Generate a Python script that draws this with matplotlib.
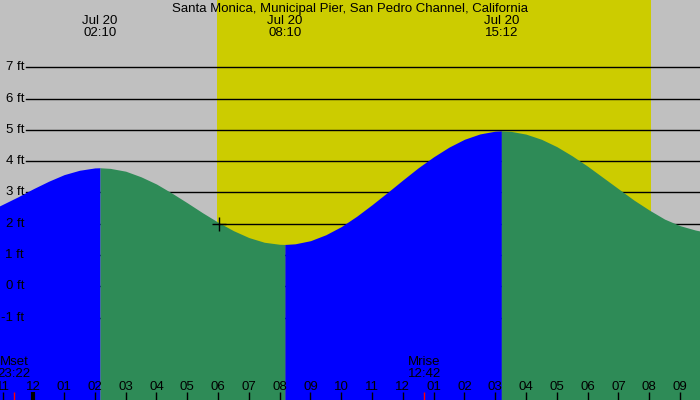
import numpy as np
import matplotlib.pyplot as plt

plt.rcParams['font.family'] = ['Liberation Sans', 'DejaVu Sans']

title = "Santa Monica, Municipal Pier, San Pedro Channel, California"

# tide height (ft), hours from midnight Jul 20
tide_hours = [-1.1, -0.5, 0, 0.5, 1, 1.5, 2, 2.167,
              2.5, 3, 3.5, 4, 4.5, 5, 5.5, 6, 6.5, 7, 7.5, 8, 8.167,
              8.5, 9, 9.5, 10, 10.5, 11, 11.5, 12, 12.5, 13, 13.5, 14, 14.5, 15, 15.2,
              15.5, 16, 16.5, 17, 17.5, 18, 18.5, 19, 19.5, 20, 20.5, 21, 21.5, 21.7]
tide_ft = [2.57, 2.86, 3.12, 3.36, 3.57, 3.71, 3.785, 3.79,
           3.77, 3.68, 3.50, 3.27, 2.98, 2.67, 2.35, 2.05, 1.78, 1.56, 1.41, 1.345, 1.34,
           1.36, 1.46, 1.65, 1.91, 2.24, 2.61, 3.00, 3.40, 3.79, 4.14, 4.45, 4.70, 4.87, 4.96, 4.97,
           4.955, 4.865, 4.70, 4.465, 4.17, 3.84, 3.48, 3.12, 2.76, 2.44, 2.15, 1.94, 1.80, 1.76]

# turning points
extreme_hours = [2.167, 8.167, 15.2]
extreme_labels = ['Jul 20\n02:10', 'Jul 20\n08:10', 'Jul 20\n15:12']

sunrise, sunset = 5.98, 20.07
moon_hours = [-0.633, 12.7]
moon_labels = ['Mset\n23:22', 'Mrise\n12:42']
now_hour, now_ft = 6.03, 2.0

hour_ticks = list(range(-1, 22))
hour_labels = ['11', '12', '01', '02', '03', '04', '05', '06', '07', '08', '09', '10', '11',
               '12', '01', '02', '03', '04', '05', '06', '07', '08', '09']
ft_levels = [-1, 0, 1, 2, 3, 4, 5, 6, 7]

xmin, xmax = -1.082, 21.65
ymin, ymax = -3.63, 9.15

fig = plt.figure(figsize=(7, 4), dpi=100)
ax = fig.add_axes([0, 0, 1, 1])
ax.set_facecolor('#c0c0c0')
ax.set_xlim(xmin, xmax)
ax.set_ylim(ymin, ymax)
for s in ax.spines.values():
    s.set_visible(False)

ax.axvspan(sunrise, sunset, color='#cccc00', lw=0, zorder=0)

for lv in ft_levels:
    ax.axhline(lv, xmin=26 / 700, xmax=1, color='black', lw=1, zorder=1)
    ax.text(xmin + 24 / 30.79, lv, f'{lv} ft', ha='right', va='center',
            fontsize=9.5, zorder=4)

h = np.array(tide_hours)
v = np.array(tide_ft)
edges = [h[0]] + extreme_hours + [h[-1]]
for a, b in zip(edges[:-1], edges[1:]):
    m = (h >= a) & (h <= b)
    rising = v[m][-1] > v[m][0]
    ax.fill_between(h[m], v[m], ymin, color='#0000ff' if rising else '#2e8b57',
                    lw=0, zorder=2)

ax.plot(now_hour, now_ft, marker='+', ms=10, mew=1, color='black', zorder=4)

tr = ax.get_xaxis_transform()
for t, lab in zip(extreme_hours, extreme_labels):
    ax.text(t, 1 - 36 / 400, lab, transform=tr, ha='center', va='baseline',
            fontsize=9.5, linespacing=0.95, zorder=4)
for t, lab in zip(moon_hours, moon_labels):
    ax.text(t, 1 - 377 / 400, lab, transform=tr, ha='center', va='baseline',
            fontsize=9.5, linespacing=0.95, zorder=4)
    ax.vlines(t, 0, 8 / 400, transform=tr, color='red', lw=1, zorder=5)
ax.vlines(0, 0, 8 / 400, transform=tr, color='black', lw=3, zorder=5)

ax.text(0.5, 1 - 12 / 400, title, transform=ax.transAxes, ha='center', va='baseline',
        fontsize=9.5, zorder=4)

ax.set_xticks(hour_ticks)
ax.set_xticklabels(hour_labels)
ax.tick_params(axis='x', direction='in', length=6, width=1, pad=-14, labelsize=9.5)
ax.tick_params(axis='y', left=False, labelleft=False)
for tk in ax.xaxis.get_major_ticks():
    tk.tick1line.set_zorder(5)
    tk.label1.set_zorder(5)
ax.set_axisbelow(False)

fig.savefig('out.png', dpi=100)
